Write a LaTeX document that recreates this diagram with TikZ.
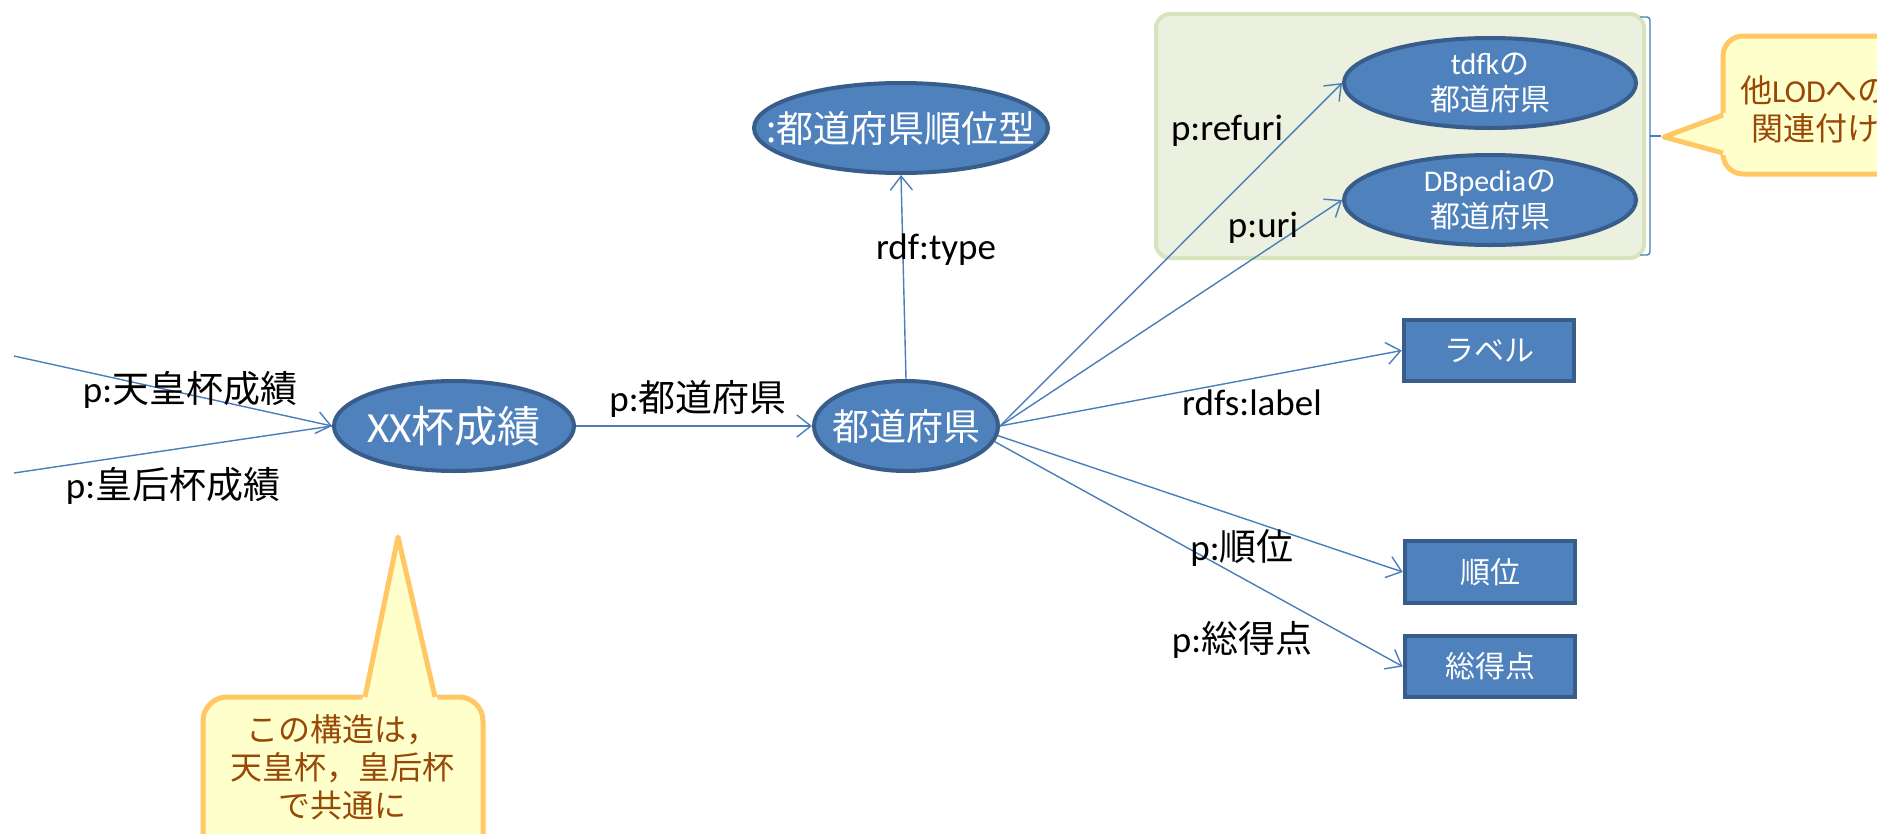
\documentclass[tikz,border=0pt]{standalone}
\usepackage{fontspec}
\setmainfont{Carlito}
\newfontfamily\cjk{Noto Sans CJK JP}
\usetikzlibrary{shapes.geometric,arrows.meta}
\definecolor{nodefill}{RGB}{79,129,189}
\definecolor{nodeline}{RGB}{56,93,138}
\definecolor{arrowc}{RGB}{74,126,187}
\definecolor{grfill}{RGB}{235,241,222}
\definecolor{grline}{RGB}{215,228,189}
\definecolor{cofill}{RGB}{255,255,204}
\definecolor{coline}{RGB}{255,200,100}
\definecolor{cotext}{RGB}{152,72,7}
\tikzset{
  ell/.style={ellipse, draw=nodeline, fill=nodefill, line width=4pt, inner sep=0pt, text=white, align=center},
  boxn/.style={rectangle, draw=nodeline, fill=nodefill, line width=4.5pt, inner sep=0pt, text=white, minimum width=170pt, font=\fontsize{30}{36}\selectfont\cjk},
  rel/.style={draw=arrowc, line width=1.4pt, -{Straight Barb[length=14pt,width=22pt]}},
  lbl/.style={text=black, font=\fontsize{37}{40}\selectfont, inner sep=0pt},
  coshape/.style={fill=cofill, draw=coline, line width=5pt, line join=round},
  cotxt/.style={text=cotext, align=center, font=\fontsize{32}{38}\selectfont\cjk, inner sep=0pt}
}
\begin{document}
\begin{tikzpicture}[x=1pt, y=-1pt]
\useasboundingbox (0,0) rectangle (1877,833);
\clip (0,0) rectangle (1877,833);
\fill[white] (0,0) rectangle (1877,833);
% green group box
\draw[fill=grfill, draw=grline, line width=4pt, rounded corners=14pt] (1156,14) rectangle (1644,258);
% bracket
\draw[arrowc, line width=1.4pt, rounded corners=3pt] (1640,17) -- (1650,17) -- (1650,255) -- (1640,255);
\draw[arrowc, line width=1.4pt] (1650,136) -- (1661,136);
% nodes
\node[ell, minimum width=240pt, minimum height=90pt, font=\fontsize{43}{46}\selectfont] (xx) at (454,426) {\makebox[0pt]{XX{\cjk 杯成績}}};
\node[ell, minimum width=184pt, minimum height=90pt, font=\fontsize{37}{40}\selectfont\cjk] (pref) at (906,426) {\makebox[0pt]{都道府県}};
\node[ell, minimum width=294pt, minimum height=90pt, font=\fontsize{37}{40}\selectfont\cjk] (type) at (901,128) {\makebox[0pt]{:都道府県順位型}};
\node[ell, minimum width=292pt, minimum height=90pt, font=\fontsize{30}{36}\selectfont] (tdfk) at (1490,83) {tdfk{\cjk の}\\{\cjk 都道府県}};
\node[ell, minimum width=292pt, minimum height=90pt, font=\fontsize{30}{36}\selectfont] (dbp) at (1490,200) {DBpedia{\cjk の}\\{\cjk 都道府県}};
\node[boxn, minimum height=61pt] (lab) at (1489,350.5) {ラベル};
\node[boxn, minimum height=62pt] (rank) at (1490,572) {順位};
\node[boxn, minimum height=61pt] (score) at (1490,666.5) {総得点};
% connectors
\coordinate (s1) at (14,356);
\coordinate (s2) at (14,473);
\draw[rel] (s1) -- (xx.west);
\draw[draw=arrowc, line width=1.4pt] (s2) -- (xx.west);
\draw[rel] (xx.east) -- (pref.west);
\draw[rel] (pref.north) -- (type.south);
\draw[rel] (pref.east) -- (tdfk.west);
\draw[rel] (pref.east) -- (dbp.west);
\draw[rel] (pref.east) -- (lab.west);
\draw[rel] (pref.-6) -- (rank.west);
\draw[rel] (pref.-10) -- (score.west);
% edge labels
\node[lbl] (l1) at (190,390) {p:{\cjk 天皇杯成績}};
\node[lbl] (l2) at (173,486) {p:{\cjk 皇后杯成績}};
\node[lbl] (l3) at (698,399) {p:{\cjk 都道府県}};
\node[lbl] (l4) at (936,250) {rdf:type};
\node[lbl] (l5) at (1227,131) {p:refuri};
\node[lbl] (l6) at (1263,228) {p:uri};
\node[lbl] (l7) at (1252,403) {rdfs:label};
\node[lbl] (l8) at (1242,548) {p:{\cjk 順位}};
\node[lbl] (l9) at (1242,640) {p:{\cjk 総得点}};
% bottom callout
\draw[coshape, rounded corners=24pt] (203,697) rectangle (483,880);
\fill[cofill] (362,701) -- (398,537) -- (438,701) -- cycle;
\draw[coshape, fill=none] (365,697) -- (398,537) -- (435,697);
\node[cotxt] (c1) at (342,767) {この構造は，\\天皇杯，皇后杯\\で共通に};
% right callout
\draw[coshape, rounded corners=20pt] (1723,36) rectangle (1930,174);
\fill[cofill] (1727,112) -- (1664,137) -- (1727,156) -- cycle;
\draw[coshape, fill=none] (1723,115) -- (1664,137) -- (1723,153);
\node[cotxt, font=\fontsize{32}{38}\selectfont] (c2) at (1815,109) {{\cjk 他}LOD{\cjk への}\\{\cjk 関連付け}};
\end{tikzpicture}
\end{document}
